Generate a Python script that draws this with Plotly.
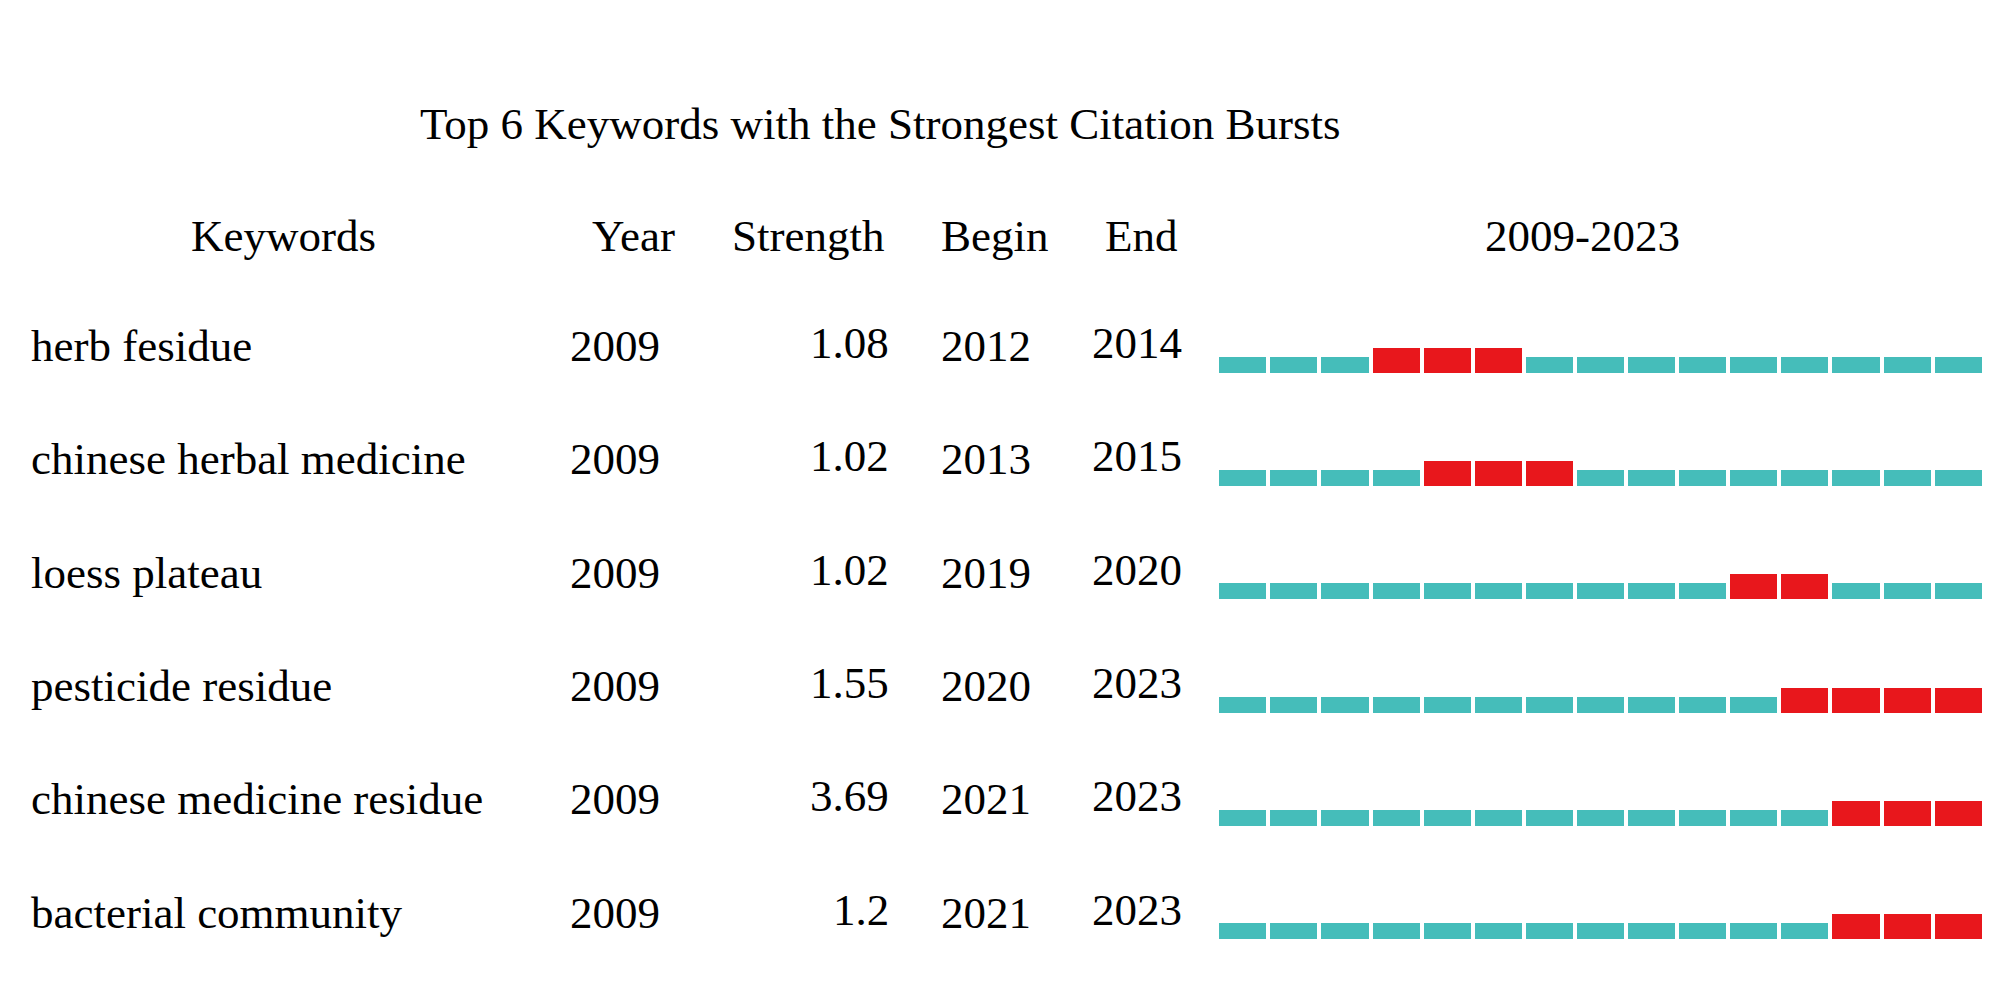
import plotly.graph_objects as go

# ---- data ----
title = "Top 6 Keywords with the Strongest Citation Bursts"
headers = ["Keywords", "Year", "Strength", "Begin", "End", "2009-2023"]
keywords = ["herb fesidue", "chinese herbal medicine", "loess plateau",
            "pesticide residue", "chinese medicine residue", "bacterial community"]
year = [2009, 2009, 2009, 2009, 2009, 2009]
strength = [1.08, 1.02, 1.02, 1.55, 3.69, 1.2]
begin = [2012, 2013, 2019, 2020, 2021, 2021]
end = [2014, 2015, 2020, 2023, 2023, 2023]
start_year, end_year = 2009, 2023

# ---- style ----
W, H = 2000, 992
FONT = "Liberation Serif, Times New Roman, serif"
FS = 45
TEAL = "#45BDBA"
RED = "#E8171C"
pitch_px = 51.1           # pixels per year
first_center_px = 1242.8  # pixel centre of first year cell
row_pitch_px = 113.3
row0_px = 372.7           # bottom of first row bars
teal_h = 16 / row_pitch_px
red_h = 25 / row_pitch_px

years = list(range(start_year, end_year + 1))
tx, tb, rx, rb = [], [], [], []
for i in range(len(keywords)):
    for y in years:
        if begin[i] <= y <= end[i]:
            rx.append(y); rb.append(i)
        else:
            tx.append(y); tb.append(i)

fig = go.Figure()
fig.add_trace(go.Bar(x=tx, y=[-teal_h] * len(tx), base=tb, width=0.92,
                     marker=dict(color=TEAL, line=dict(width=0)), hoverinfo="skip"))
fig.add_trace(go.Bar(x=rx, y=[-red_h] * len(rx), base=rb, width=0.92,
                     marker=dict(color=RED, line=dict(width=0)), hoverinfo="skip"))

ann = []
def px2x(p):
    return p / W
def py2y(p):
    return 1 - p / H

ann.append(dict(text=title, x=px2x(880), y=py2y(124), xref="paper", yref="paper",
                xanchor="center", yanchor="middle", showarrow=False,
                font=dict(size=FS, family=FONT, color="black")))
hdr_x = [283, 633, 808, 995, 1141, 1582]
for h, x in zip(headers, hdr_x):
    ann.append(dict(text=h, x=px2x(x), y=py2y(236), xref="paper", yref="paper",
                    xanchor="center", yanchor="middle", showarrow=False,
                    font=dict(size=FS, family=FONT, color="black")))

off = -0.235
for i in range(len(keywords)):
    cols = [
        (keywords[i], 29, "left", 0),
        (str(year[i]), 615, "center", 0),
        (str(strength[i]), 891, "right", 3),
        (str(begin[i]), 986, "center", 0),
        (str(end[i]), 1137, "center", 3),
    ]
    for txt, x, anc, ys in cols:
        ann.append(dict(text=txt, x=px2x(x), y=i + off, xref="paper", yref="y",
                        xanchor=anc, yanchor="middle", yshift=ys, showarrow=False,
                        font=dict(size=FS, family=FONT, color="black")))

x_lo = start_year - first_center_px / pitch_px
x_hi = start_year + (W - first_center_px) / pitch_px
y_top = -row0_px / row_pitch_px
y_bot = (H - row0_px) / row_pitch_px

fig.update_layout(
    width=W, height=H, margin=dict(l=0, r=0, t=0, b=0, pad=0),
    paper_bgcolor="white", plot_bgcolor="white",
    barmode="overlay", showlegend=False, bargap=0,
    xaxis=dict(range=[x_lo, x_hi], visible=False, fixedrange=True),
    yaxis=dict(range=[y_bot, y_top], visible=False, fixedrange=True),
    annotations=ann,
)

fig.write_html("out.html", config={"displayModeBar": False},
               post_script="document.body.style.margin='0';")
